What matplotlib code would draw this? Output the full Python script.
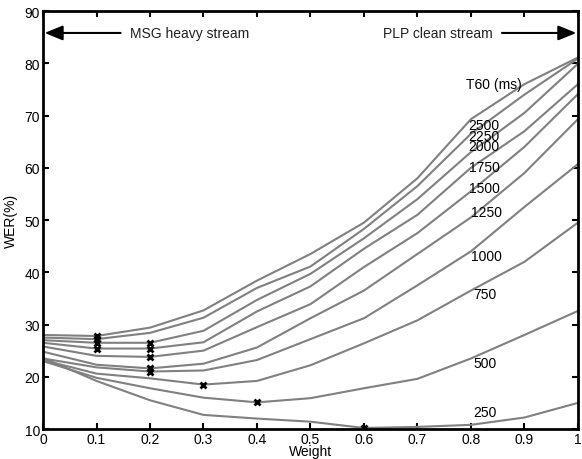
import numpy as np
import matplotlib.pyplot as plt

plt.rcParams['font.family'] = ['Liberation Sans', 'DejaVu Sans']

# Weight of the PLP clean stream
weight = [0, 0.1, 0.2, 0.3, 0.4, 0.5, 0.6, 0.7, 0.8, 0.9, 1.0]

# WER(%) per reverberation time T60 (ms)
t60 = [2500, 2250, 2000, 1750, 1500, 1250, 1000, 750, 500, 250]
wer_2500 = [28.0, 27.8, 29.4, 32.7, 38.4, 43.5, 49.5, 58.0, 69.3, 76.0, 81.1]
wer_2250 = [27.5, 27.2, 28.4, 31.3, 37.0, 41.1, 48.3, 56.5, 66.5, 74.0, 80.9]
wer_2000 = [27.0, 26.5, 26.5, 28.8, 34.7, 39.7, 46.5, 54.0, 63.0, 70.5, 79.9]
wer_1750 = [26.5, 25.4, 25.4, 26.6, 32.5, 37.3, 44.5, 51.0, 60.0, 67.0, 76.0]
wer_1500 = [25.8, 24.0, 23.8, 25.0, 29.5, 33.9, 41.0, 47.5, 55.5, 64.0, 74.1]
wer_1250 = [24.8, 22.3, 21.6, 22.5, 25.6, 31.2, 36.5, 43.5, 50.5, 59.0, 69.3]
wer_1000 = [23.5, 21.8, 21.0, 21.2, 23.2, 27.2, 31.2, 37.5, 44.0, 52.5, 60.7]
wer_750 = [23.2, 20.6, 19.7, 18.5, 19.2, 22.2, 26.4, 30.8, 36.5, 42.0, 49.5]
wer_500 = [23.0, 19.8, 17.8, 16.0, 15.1, 15.9, 17.8, 19.6, 23.5, 28.0, 32.6]
wer_250 = [23.6, 19.2, 15.5, 12.7, 12.0, 11.4, 10.2, 10.4, 10.8, 12.2, 15.0]
curves = [wer_2500, wer_2250, wer_2000, wer_1750, wer_1500,
          wer_1250, wer_1000, wer_750, wer_500, wer_250]

# where each T60 label sits (weight, WER)
label_x = [0.795, 0.795, 0.795, 0.797, 0.797, 0.80, 0.80, 0.805, 0.805, 0.805]
label_y = [68.2, 66.1, 64.2, 60.1, 56.1, 51.5, 43.2, 35.8, 22.6, 13.2]

fig = plt.figure(figsize=(5.82, 4.6), dpi=100)
ax = fig.add_axes([0.0739, 0.0652, 0.9191, 0.9087])

for wer in curves:
    ax.plot(weight, wer, color='#808080', lw=1.5, zorder=2)

# mark the best weight (minimum WER) of every curve
for wer in curves:
    w = np.array(wer)
    idx = np.where(w == w.min())[0]
    ax.plot(np.array(weight)[idx], w[idx], 'x', color='black', ms=4, mew=2, zorder=3)

for t, lx, ly in zip(t60, label_x, label_y):
    ax.text(lx, ly, str(t), fontsize=10, va='center', ha='left')
ax.text(0.79, 76.0, 'T60 (ms)', fontsize=10, va='center', ha='left')

ax.annotate('', xy=(0.003, 85.8), xytext=(0.145, 85.8),
            arrowprops=dict(arrowstyle='-|>,head_length=1.1,head_width=0.45',
                            color='black', lw=1.5, shrinkA=0, shrinkB=0))
ax.text(0.163, 85.8, 'MSG heavy stream', fontsize=10, va='center', ha='left',
        color='#202020')
ax.annotate('', xy=(0.997, 85.8), xytext=(0.858, 85.8),
            arrowprops=dict(arrowstyle='-|>,head_length=1.1,head_width=0.45',
                            color='black', lw=1.5, shrinkA=0, shrinkB=0))
ax.text(0.84, 85.8, 'PLP clean stream', fontsize=10, va='center', ha='right',
        color='#202020')

ax.set_xlim(0, 1)
ax.set_ylim(10, 90)
ax.set_xticks(weight)
ax.set_xticklabels(['0', '0.1', '0.2', '0.3', '0.4', '0.5', '0.6', '0.7', '0.8', '0.9', '1'])
ax.set_yticks(range(10, 91, 10))
ax.tick_params(direction='in', length=4, width=1.5, labelsize=10, pad=2,
               top=True, right=True)
for s in ax.spines.values():
    s.set_linewidth(2)
ax.set_xlabel('Weight', fontsize=10, labelpad=-1)
ax.set_ylabel('WER(%)', fontsize=10, labelpad=5)

fig.savefig('out.png', dpi=100)
